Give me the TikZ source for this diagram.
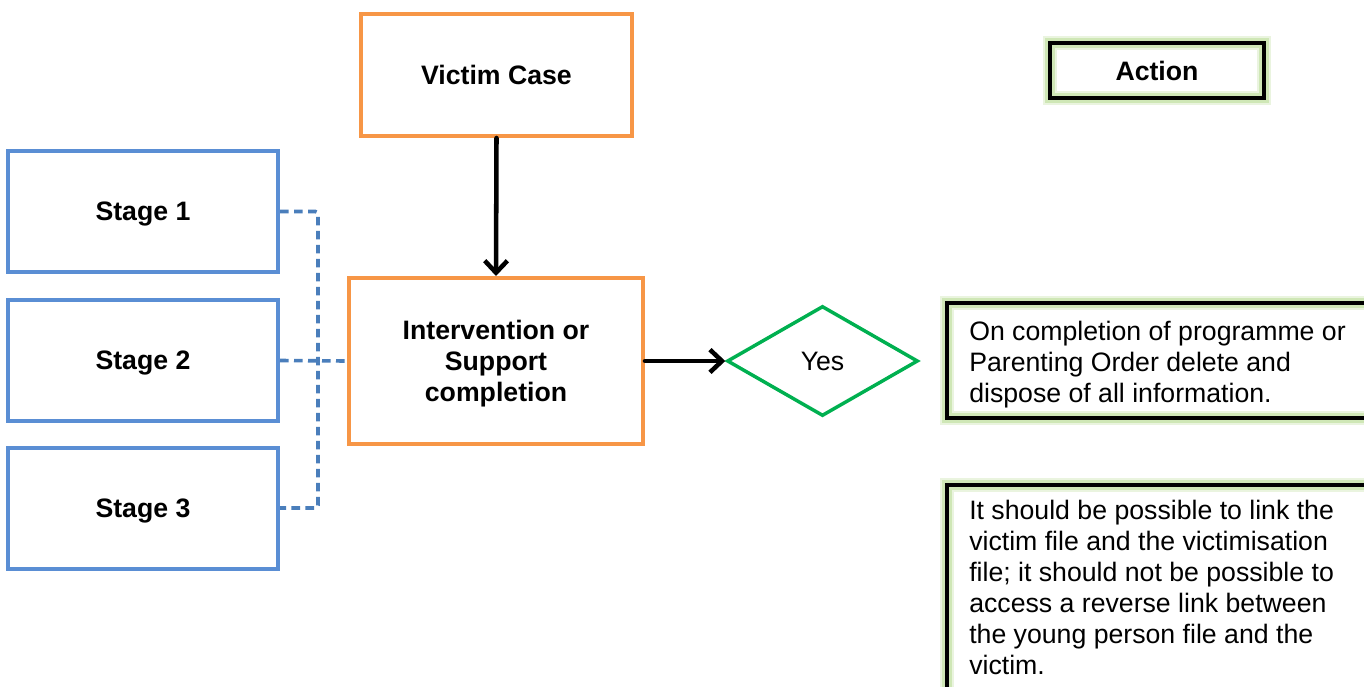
\documentclass[tikz,border=0pt]{standalone}
\usepackage{fontspec}
\setmainfont{Liberation Sans}
\usetikzlibrary{arrows.meta,shapes.geometric}
\definecolor{caseorange}{HTML}{F79646}
\definecolor{stageblue}{HTML}{5A8ED4}
\definecolor{linkblue}{HTML}{4A7EBB}
\definecolor{yesgreen}{HTML}{00B050}
\definecolor{glowgreen}{HTML}{B9DC95}
\begin{document}
\begin{tikzpicture}[x=0.75pt,y=-0.75pt,
  every node/.style={font=\fontsize{20}{23.25}\selectfont},
  casebox/.style={draw=caseorange,line width=3pt,rectangle,align=center,text depth=0pt,font=\fontsize{20}{23.25}\selectfont\bfseries},
  stagebox/.style={draw=stageblue,line width=3pt,rectangle,minimum width=202.5pt,minimum height=90.75pt,text depth=0pt,font=\fontsize{20}{23.25}\selectfont\bfseries},
  decision/.style={diamond,draw=yesgreen,line width=2.6pt,minimum width=143.25pt,minimum height=82.5pt,inner sep=0pt,aspect=1.74},
  actionbox/.style={draw=black,line width=2.8pt,rectangle,
    preaction={draw=glowgreen,line width=11pt,opacity=0.3},
    preaction={draw=glowgreen,line width=7pt,opacity=0.55}},
  infotext/.style={anchor=north west,inner sep=0pt,align=left},
  flow/.style={line width=3.4pt,-{Straight Barb[length=9pt,width=17pt]},line cap=round,line join=round},
  link/.style={draw=linkblue,line width=2.7pt,dash pattern=on 6.5pt off 4pt,rounded corners=2pt}
]
\useasboundingbox (0,0) rectangle (1364,686);
\clip (0,0) rectangle (1364,686);

% case flow
\node[casebox,minimum width=203.25pt,minimum height=91.5pt] (case) at (496.5,75) {Victim Case};
\node[casebox,minimum width=220.5pt,minimum height=124.5pt] (support) at (496,361) {Intervention or\\Support\\completion};
\node[decision] (yes) at (822.5,361) {Yes};

% stages
\node[stagebox] (s1) at (143,211.5) {Stage 1};
\node[stagebox] (s2) at (143,360.5) {Stage 2};
\node[stagebox] (s3) at (143,508) {Stage 3};

% action boxes
\node[actionbox,minimum width=160.5pt,minimum height=41.25pt,font=\fontsize{20}{23.25}\selectfont\bfseries] (action) at (1157,70.5) {Action};
\node[actionbox,minimum width=327pt,minimum height=86.25pt] (act1) at (1165,360.5) {};
\node[actionbox,minimum width=327pt,minimum height=172.5pt] (act2) at (1165,600) {};
\node[infotext] (t1) at (969,320.5) {On completion of programme or\\Parenting Order delete and\\dispose of all information.};
\node[infotext] (t2) at (969,499.5) {It should be possible to link the\\victim file and the victimisation\\file; it should not be possible to\\access a reverse link between\\the young person file and the\\victim.};

% connectors
\coordinate (bend1) at (318,211.5);
\coordinate (bend3) at (318,508);
\draw[link] (s1.east) -- (bend1) -- (bend3) -- (s3.east);
\draw[link] (s2.east) -- (support.west);
\draw[flow] (case.south) -- (support.north);
\draw[flow] (support.east) -- (yes.west);
\end{tikzpicture}
\end{document}
